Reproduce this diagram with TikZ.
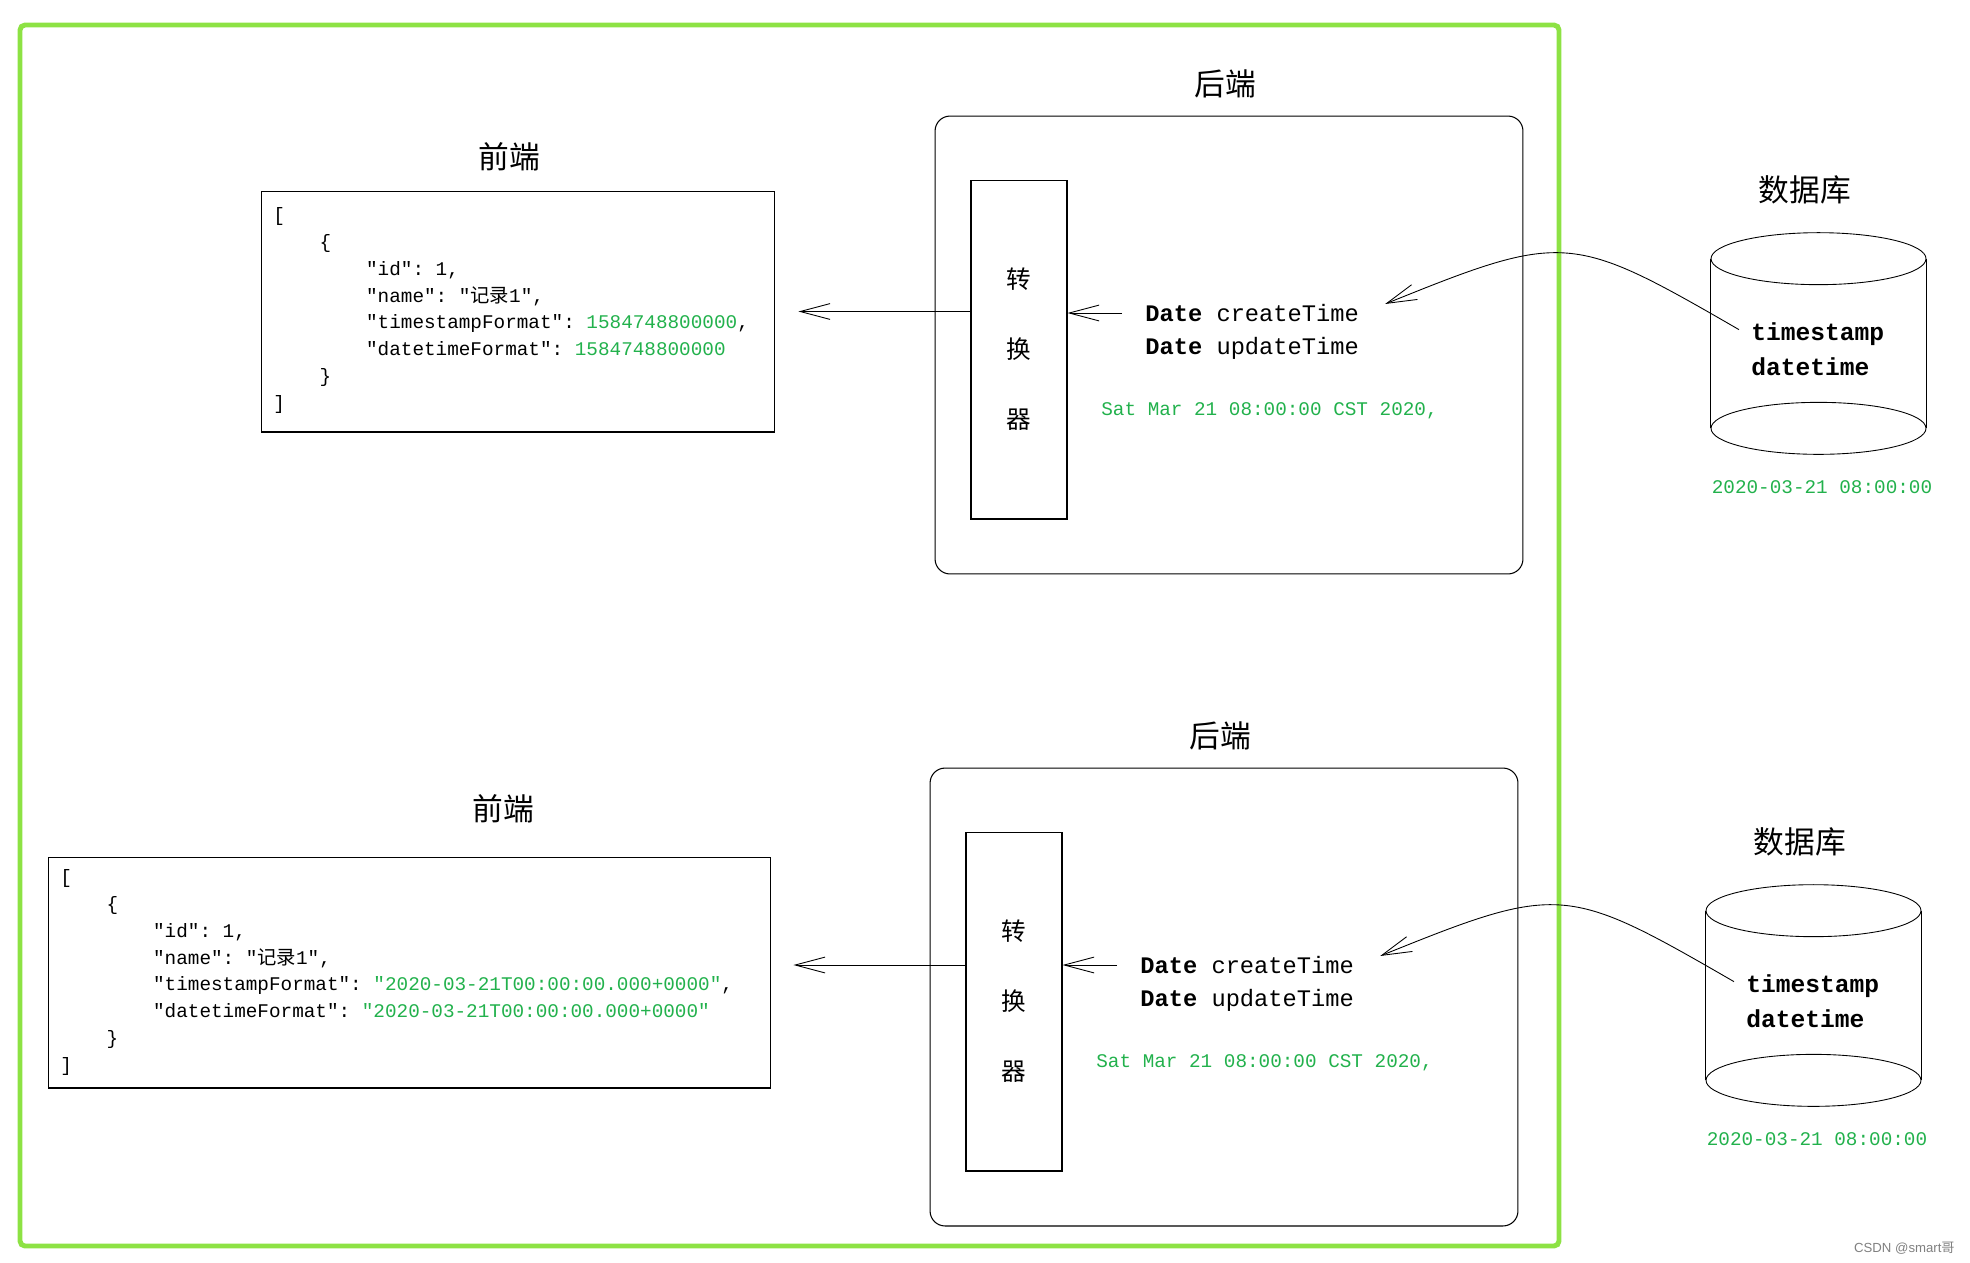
\documentclass[tikz,border=0pt]{standalone}
\usepackage{fontspec}
\setmainfont{Liberation Serif}
\setmonofont{Liberation Mono}
\newfontfamily\cjk{Noto Sans CJK SC}
\newfontfamily\wmfont{Liberation Sans}
\usetikzlibrary{arrows.meta}

\definecolor{framegreen}{RGB}{141,226,68}
\definecolor{valgreen}{RGB}{34,177,76}

\tikzset{
  title/.style={font=\cjk\fontsize{17.5}{17.5}\selectfont, inner sep=0pt},
  jsonbox/.style={draw, line width=0.6pt, inner sep=0pt},
  jsontext/.style={font=\ttfamily\fontsize{11}{15.3}\selectfont, align=left, inner sep=0pt, anchor=north west},
  backbox/.style={draw, rounded corners=0.3cm, line width=0.6pt, inner sep=0pt, minimum width=11.76cm, minimum height=9.16cm},
  convbox/.style={draw, line width=0.6pt, inner sep=0pt, minimum width=1.92cm, minimum height=6.78cm, align=center, font=\cjk\fontsize{14}{39.8}\selectfont},
  field/.style={font=\ttfamily\fontsize{13.5}{13.5}\selectfont, inner sep=0pt, anchor=west},
  dbfield/.style={font=\ttfamily\bfseries\fontsize{14}{19.9}\selectfont, align=left, inner sep=0pt, anchor=west},
  valtext/.style={text=valgreen, font=\ttfamily\fontsize{11}{11}\selectfont, inner sep=0pt},
  dbbody/.style={inner sep=0pt, minimum width=4.3cm, minimum height=3.38cm},
  arr/.style={-{Straight Barb[length=17pt,width=9pt]}, line width=0.5pt},
}

\begin{document}
\begin{tikzpicture}[x=0.02cm, y=-0.02cm]
\useasboundingbox (0,0) rectangle (1970,1262);
\draw[color=framegreen, line width=2.8pt, rounded corners=0.1cm] (20,25) rectangle (1559,1246);

\node[title] (ftitle1) at (509,157) {前端};
\node[jsonbox, minimum width=10.28cm, minimum height=4.82cm] (front1) at (518,311.5) {};
\node[jsontext] (json1) at (273,207) {[\\
\hspace*{2.4em}\{\\
\hspace*{4.8em}"id": 1,\\
\hspace*{4.8em}"name": "{\cjk 记录}1",\\
\hspace*{4.8em}"timestampFormat": \textcolor{valgreen}{1584748800000},\\
\hspace*{4.8em}"datetimeFormat": \textcolor{valgreen}{1584748800000}\\
\hspace*{2.4em}\}\\
]};

\node[title] (btitle1) at (1225,84) {后端};
\node[backbox] (back1) at (1229,345) {};
\node[convbox] (conv1) at (1019,349.5) {转\\换\\器};
\node[field] (date1) at (1145,313) {\textbf{Date} createTime};
\node[field] (upd1) at (1145,348) {\textbf{Date} updateTime};
\node[valtext, anchor=west] (sat1) at (1101,411) {Sat Mar 21 08:00:00 CST 2020,};

\node[title] (dtitle1) at (1805,190) {数据库};
\node[dbbody] (db1) at (1818.5,343.5) {};
\draw[line width=0.5pt] (db1.north) ellipse [x radius=2.15cm, y radius=0.52cm];
\draw[line width=0.5pt] (db1.south) ellipse [x radius=2.15cm, y radius=0.52cm];
\draw[line width=0.5pt] (db1.north west) -- (db1.south west);
\draw[line width=0.5pt] (db1.north east) -- (db1.south east);
\node[dbfield] (dbtxt1) at (1751,349.5) {timestamp\\datetime};
\node[valtext] (dbval1) at (1822,487) {2020-03-21 08:00:00};

\draw[arr] (front1.east -| conv1.west) -- ([xshift=0.46cm]front1.east);
\draw[arr] ([xshift=-0.46cm]date1.west) -- (date1.west -| conv1.east);
\draw[arr] ([shift={(-12,7)}]dbtxt1.north west) to[out=150, in=22, looseness=1.4] ([shift={(26,0)}]date1.north east);

\node[title] (ftitle2) at (503,809) {前端};
\node[jsonbox, minimum width=14.46cm, minimum height=4.62cm] (front2) at (409.5,972.5) {};
\node[jsontext] (json2) at (60,869) {[\\
\hspace*{2.4em}\{\\
\hspace*{4.8em}"id": 1,\\
\hspace*{4.8em}"name": "{\cjk 记录}1",\\
\hspace*{4.8em}"timestampFormat": \textcolor{valgreen}{"2020-03-21T00:00:00.000+0000"},\\
\hspace*{4.8em}"datetimeFormat": \textcolor{valgreen}{"2020-03-21T00:00:00.000+0000"}\\
\hspace*{2.4em}\}\\
]};

\node[title] (btitle2) at (1220,736) {后端};
\node[backbox] (back2) at (1224,997) {};
\node[convbox] (conv2) at (1014,1001.5) {转\\换\\器};
\node[field] (date2) at (1140,965) {\textbf{Date} createTime};
\node[field] (upd2) at (1140,1000) {\textbf{Date} updateTime};
\node[valtext, anchor=west] (sat2) at (1096,1063) {Sat Mar 21 08:00:00 CST 2020,};

\node[title] (dtitle2) at (1800,842) {数据库};
\node[dbbody] (db2) at (1813.5,995.5) {};
\draw[line width=0.5pt] (db2.north) ellipse [x radius=2.15cm, y radius=0.52cm];
\draw[line width=0.5pt] (db2.south) ellipse [x radius=2.15cm, y radius=0.52cm];
\draw[line width=0.5pt] (db2.north west) -- (db2.south west);
\draw[line width=0.5pt] (db2.north east) -- (db2.south east);
\node[dbfield] (dbtxt2) at (1746,1001.5) {timestamp\\datetime};
\node[valtext] (dbval2) at (1817,1139) {2020-03-21 08:00:00};

\draw[arr] ([yshift=0.15cm]front2.east -| conv2.west) -- ([xshift=0.44cm,yshift=0.15cm]front2.east);
\draw[arr] ([xshift=-0.46cm]date2.west) -- (date2.west -| conv2.east);
\draw[arr] ([shift={(-12,7)}]dbtxt2.north west) to[out=150, in=22, looseness=1.4] ([shift={(26,0)}]date2.north east);

\node[font=\wmfont\fontsize{7.5}{7.5}\selectfont, text=gray, anchor=east, inner sep=0pt] (mark) at (1955,1248) {CSDN @smart{\cjk 哥}};
\end{tikzpicture}
\end{document}
